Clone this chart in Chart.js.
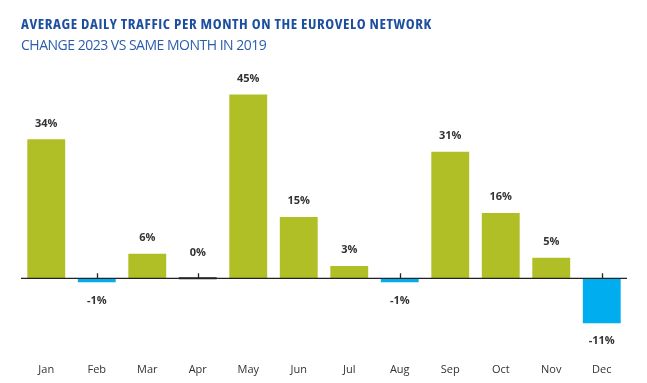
<!DOCTYPE html>
<html>
<head>
<meta charset="utf-8">
<script src="https://cdn.jsdelivr.net/npm/chart.js@4.4.0/dist/chart.umd.min.js"></script>
<style>
html,body{margin:0;padding:0;background:#fff;}
#wrap{width:647px;height:383px;position:relative;overflow:hidden;}
#wrap canvas{position:absolute;left:0;top:0;}
.t{position:absolute;left:21px;white-space:nowrap;font-family:'Open Sans','DejaVu Sans',sans-serif;}
#title{top:16px;font-size:15px;line-height:15px;font-weight:700;color:#1d4f9e;font-stretch:75%;letter-spacing:0.6px;}
#subtitle{top:38px;font-size:14px;line-height:14px;font-weight:400;color:#2c5dad;letter-spacing:-0.5px;}
</style>
</head>
<body>
<div id="wrap">
  <canvas id="c" width="647" height="383"></canvas>
  <div class="t" id="title"></div>
  <div class="t" id="subtitle"></div>
</div>
<script>
const months = ["Jan","Feb","Mar","Apr","May","Jun","Jul","Aug","Sep","Oct","Nov","Dec"];
const changes = [34, -1, 6, 0, 45, 15, 3, -1, 31, 16, 5, -11];
const titleText = "AVERAGE DAILY TRAFFIC PER MONTH ON THE EUROVELO NETWORK";
const subtitleText = "CHANGE 2023 VS SAME MONTH IN 2019";

document.getElementById('title').textContent = titleText;
document.getElementById('subtitle').textContent = subtitleText;

const GREEN = "#b0bf26", BLUE = "#00adee", DARK = "#222222";
const FONT = "'Open Sans', 'DejaVu Sans', sans-serif";

const extras = {
  id: 'extras',
  afterDatasetsDraw(chart) {
    const ctx = chart.ctx;
    const area = chart.chartArea;
    const y = chart.scales.y;
    const x = chart.scales.x;
    const y0 = y.getPixelForValue(0);
    ctx.save();
    ctx.strokeStyle = "#222";
    ctx.lineWidth = 1.3;
    ctx.beginPath();
    ctx.moveTo(area.left, y0);
    ctx.lineTo(area.right, y0);
    ctx.stroke();
    changes.forEach((v, i) => {
      if (v <= 0) {
        const px = Math.round(x.getPixelForValue(i)) + 0.5;
        ctx.beginPath();
        ctx.moveTo(px, y0);
        ctx.lineTo(px, y0 - 5);
        ctx.stroke();
      }
    });
    const meta = chart.getDatasetMeta(0);
    ctx.fillStyle = "#333";
    ctx.font = "bold 11px " + FONT;
    ctx.textAlign = "center";
    ctx.textBaseline = "middle";
    meta.data.forEach((bar, i) => {
      const v = changes[i];
      let ly;
      if (v > 0) ly = bar.y - 16;
      else if (v === 0) ly = y0 - 25;
      else ly = y.getPixelForValue(v) + 18;
      ctx.fillText(v + "%", bar.x, ly);
    });
    ctx.restore();
  }
};

new Chart(document.getElementById('c'), {
  type: 'bar',
  data: {
    labels: months,
    datasets: [{
      data: changes,
      backgroundColor: changes.map(v => v > 0 ? GREEN : (v < 0 ? BLUE : DARK)),
      barPercentage: 0.75,
      categoryPercentage: 1.0,
      minBarLength: 2,
      borderWidth: 0
    }]
  },
  options: {
    responsive: false,
    animation: false,
    devicePixelRatio: 1,
    layout: { padding: { left: 21, right: 20, top: 74, bottom: 3.8 } },
    plugins: {
      legend: { display: false },
      tooltip: { enabled: false },
      title: { display: false },
      subtitle: { display: false }
    },
    scales: {
      x: {
        grid: { display: false, drawTicks: false },
        border: { display: false },
        ticks: { color: '#333', font: { family: FONT, size: 11 }, padding: 3 }
      },
      y: {
        display: false,
        min: -20, max: 50
      }
    }
  },
  plugins: [extras]
});
</script>
</body>
</html>
